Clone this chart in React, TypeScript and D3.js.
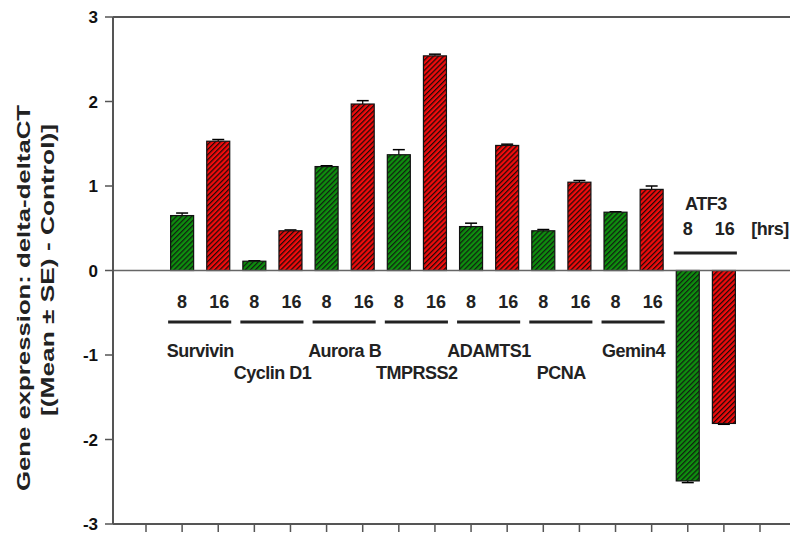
import React from "react";
import * as d3 from "d3";

const genes = ["Survivin", "Cyclin D1", "Aurora B", "TMPRSS2", "ADAMTS1", "PCNA", "Gemin4", "ATF3"];
const geneRow = [0, 1, 0, 1, 0, 1, 0, -1];
const hours = ["8", "16"];
const values8 = [0.65, 0.11, 1.23, 1.37, 0.52, 0.47, 0.69, -2.49];
const values16 = [1.53, 0.47, 1.97, 2.54, 1.48, 1.045, 0.96, -1.81];
const se8 = [0.03, 0.005, 0.01, 0.06, 0.04, 0.015, 0.005, 0.02];
const se16 = [0.02, 0.01, 0.04, 0.02, 0.015, 0.02, 0.04, 0.01];
const yTicks = [-3, -2, -1, 0, 1, 2, 3];
const xTicks = d3.range(1, 19);

const W = 790;
const H = 533;

export default function App() {
  const x = d3.scaleLinear().domain([1, 18]).range([146, 760]);
  const y = d3.scaleLinear().domain([-3, 3]).range([524, 17]);
  const axisX = 113;
  const barW = 23;
  const font = "'Liberation Sans', Arial, sans-serif";
  const axisColor = "#555";

  const bars: { pos: number; v: number; se: number; color: string; key: string }[] = [];
  genes.forEach((g, i) => {
    bars.push({ pos: 2 + i * 2, v: values8[i], se: se8[i], color: "url(#hatchG)", key: g + "8" });
    bars.push({ pos: 3 + i * 2, v: values16[i], se: se16[i], color: "url(#hatchR)", key: g + "16" });
  });

  return (
    <svg width={W} height={H} style={{ position: "absolute", left: 0, top: 0, background: "#fff" }}>
      <defs>
        <pattern id="hatchG" patternUnits="userSpaceOnUse" width={3.6} height={3.6} patternTransform="rotate(45)">
          <rect width={3.6} height={3.6} fill="#0e8f0e" />
          <line x1={0.6} y1={0} x2={0.6} y2={3.6} stroke="#102010" strokeWidth={1.3} />
        </pattern>
        <pattern id="hatchR" patternUnits="userSpaceOnUse" width={3.6} height={3.6} patternTransform="rotate(45)">
          <rect width={3.6} height={3.6} fill="#f00c0c" />
          <line x1={0.6} y1={0} x2={0.6} y2={3.6} stroke="#200808" strokeWidth={1.3} />
        </pattern>
      </defs>

      {/* frame top */}
      <line x1={axisX} x2={W} y1={y(3)} y2={y(3)} stroke={axisColor} strokeWidth={2} />
      {/* bottom axis */}
      <line x1={axisX} x2={W} y1={y(-3)} y2={y(-3)} stroke={axisColor} strokeWidth={2} />
      {xTicks.map((t) => (
        <line key={t} x1={x(t)} x2={x(t)} y1={y(-3)} y2={y(-3) + 8} stroke={axisColor} strokeWidth={1.5} />
      ))}

      {/* bars */}
      {bars.map((b) => {
        const top = Math.min(y(b.v), y(0));
        const h = Math.abs(y(b.v) - y(0));
        const ey = y(b.v + (b.v >= 0 ? b.se : -b.se));
        return (
          <g key={b.key}>
            <line x1={x(b.pos)} x2={x(b.pos)} y1={y(b.v)} y2={ey} stroke="#000" strokeWidth={1.2} />
            <line x1={x(b.pos) - 6} x2={x(b.pos) + 6} y1={ey} y2={ey} stroke="#000" strokeWidth={1.5} />
            <rect x={x(b.pos) - barW / 2} y={top} width={barW} height={h} fill={b.color} stroke="#111" strokeWidth={1.2} />
          </g>
        );
      })}

      {/* zero line */}
      <line x1={axisX} x2={W} y1={y(0)} y2={y(0)} stroke="#666" strokeWidth={1.5} />

      {/* y axis */}
      <line x1={axisX} x2={axisX} y1={y(3)} y2={y(-3)} stroke={axisColor} strokeWidth={2} />
      {yTicks.map((t) => (
        <g key={t}>
          <line x1={axisX - 8} x2={axisX} y1={y(t)} y2={y(t)} stroke={axisColor} strokeWidth={1.5} />
          <text x={98} y={y(t)} dy="0.36em" textAnchor="end" fontFamily={font} fontWeight="bold" fontSize={17} fill="#111">
            {t < 0 ? "-" + Math.abs(t) : String(t)}
          </text>
        </g>
      ))}

      {/* y title */}
      <text transform={`translate(23, 298) rotate(-90)`} textAnchor="middle" dominantBaseline="central" fontFamily={font} fontWeight="bold" fontSize={19} fill="#222" textLength={386} lengthAdjust="spacingAndGlyphs">
        Gene expression: delta-deltaCT
      </text>
      <text transform={`translate(47, 270) rotate(-90)`} textAnchor="middle" dominantBaseline="central" fontFamily={font} fontWeight="bold" fontSize={19} fill="#222" textLength={292} lengthAdjust="spacingAndGlyphs">
        [(Mean ± SE) - Control)]
      </text>

      {/* group labels */}
      {genes.map((g, i) => {
        const p8 = 2 + i * 2;
        const p16 = 3 + i * 2;
        const isAtf = geneRow[i] < 0;
        const hrsY = isAtf ? 235 : 308;
        const lineY = isAtf ? 253 : 322;
        const cx = (x(p8) + x(p16)) / 2;
        const nameY = isAtf ? 210 : geneRow[i] === 0 ? 357 : 379;
        return (
          <g key={g} fontFamily={font} fontWeight="bold" fontSize={18} fill="#222">
            <text x={x(p8)} y={hrsY} textAnchor="middle">{hours[0]}</text>
            <text x={x(p16) + 1} y={hrsY} textAnchor="middle">{hours[1]}</text>
            <line x1={x(p8) - 14} x2={x(p16) + 13} y1={lineY} y2={lineY} stroke="#222" strokeWidth={3} />
            <text x={cx} y={nameY} textAnchor="middle" letterSpacing={-0.5}>{g}</text>
          </g>
        );
      })}
      <text x={770} y={235} textAnchor="middle" fontFamily={font} fontWeight="bold" fontSize={18} fill="#222" letterSpacing={-0.5}>[hrs]</text>
    </svg>
  );
}
